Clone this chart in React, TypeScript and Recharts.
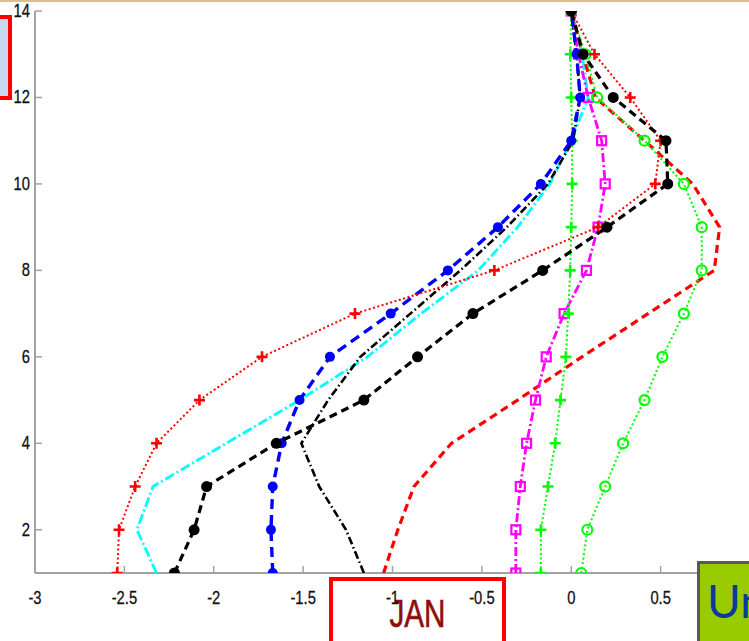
import { ScatterChart, Scatter, XAxis, YAxis } from "recharts";

// Profile heights (vertical axis) shared by every series.
const heights = [1, 2, 3, 4, 5, 6, 7, 8, 9, 10, 11, 12, 13, 14];

// Horizontal values of each profile, one per height level.
const redDotted = [-2.54, -2.53, -2.44, -2.32, -2.08, -1.73, -1.21, -0.43, 0.15, 0.47, 0.5, 0.33, 0.13, 0];
const cyanDashDot = [-2.32, -2.43, -2.34, -1.93, -1.52, -1.14, -0.84, -0.52, -0.3, -0.12, 0.0, 0.095, 0.06, 0];
const blueDashed = [-1.67, -1.68, -1.67, -1.62, -1.52, -1.35, -1.01, -0.69, -0.41, -0.17, 0.0, 0.05, 0.03, 0];
const blackDashed = [-2.22, -2.11, -2.04, -1.65, -1.16, -0.86, -0.55, -0.16, 0.2, 0.54, 0.53, 0.235, 0.067, 0];
const blackDashDot = [-1.16, -1.26, -1.41, -1.51, -1.36, -1.18, -0.9, -0.62, -0.36, -0.13, 0.01, 0.05, 0.03, 0];
const redDashed = [-1.05, -0.97, -0.88, -0.67, -0.3, 0.06, 0.43, 0.8, 0.83, 0.68, 0.41, 0.135, 0.065, 0];
const magentaDashDot = [-0.31, -0.31, -0.285, -0.25, -0.2, -0.14, -0.04, 0.085, 0.15, 0.19, 0.17, 0.095, 0.04, 0];
const greenPlus = [-0.17, -0.17, -0.13, -0.09, -0.06, -0.03, -0.017, -0.006, 0, 0.005, 0.005, 0, -0.005, 0];
const greenCircle = [0.056, 0.09, 0.19, 0.29, 0.41, 0.51, 0.63, 0.73, 0.73, 0.63, 0.41, 0.145, 0.08, 0];

const xTicks = [-3, -2.5, -2, -1.5, -1, -0.5, 0, 0.5];
const yTicks = [2, 4, 6, 8, 10, 12, 14];

const toPoints = (vals: number[]) => heights.map((h, i) => ({ x: vals[i], y: h }));

const AXIS = "#a3a3a3";
const LABEL_FONT = "'Liberation Sans', Arial, sans-serif";

type P = { cx?: number; cy?: number };

const noMarker = () => <g />;
const plus = (c: string) => ({ cx = 0, cy = 0 }: P) => (
  <path d={`M${cx - 5.5},${cy}h11M${cx},${cy - 5.5}v11`} stroke={c} strokeWidth={2.6} fill="none" />
);
const disc = (c: string, r: number) => ({ cx = 0, cy = 0 }: P) => <circle cx={cx} cy={cy} r={r} fill={c} />;
const ring = (c: string) => ({ cx = 0, cy = 0 }: P) => (
  <circle cx={cx} cy={cy} r={5} fill="none" stroke={c} strokeWidth={2.2} />
);
const box = (c: string) => ({ cx = 0, cy = 0 }: P) => (
  <rect x={cx - 4.5} y={cy - 4.5} width={9} height={9} fill="none" stroke={c} strokeWidth={2.2} />
);

// Narrow tick labels: plain sans squeezed horizontally.
const Label = ({ x, y, anchor, children }: any) => (
  <text
    transform={`translate(${x},${y}) scale(0.82,1)`}
    textAnchor={anchor}
    fontSize={18}
    fontFamily={LABEL_FONT}
    fill="#111"
    stroke="#111"
    strokeWidth={0.3}
  >
    {children}
  </text>
);

// MATLAB-style axes: tick marks point into the plot area.
const BottomTick = ({ x, y, payload }: any) => (
  <g>
    <line x1={x} y1={y} x2={x} y2={y - 7} stroke={AXIS} strokeWidth={1.5} />
    <Label x={x} y={y + 31} anchor="middle">
      {payload.value}
    </Label>
  </g>
);
const LeftTick = ({ x, y, payload }: any) => (
  <g>
    <line x1={x} y1={y} x2={x + 7} y2={y} stroke={AXIS} strokeWidth={1.5} />
    <Label x={x - 5} y={y + 6} anchor="end">
      {payload.value}
    </Label>
  </g>
);
const TopTick = ({ x, y }: any) => <line x1={x} y1={y} x2={x} y2={y + 7} stroke={AXIS} strokeWidth={1.5} />;
const RightTick = ({ x, y }: any) => <line x1={x} y1={y} x2={x - 7} y2={y} stroke={AXIS} strokeWidth={1.5} />;

const series = [
  { name: "cyan", data: cyanDashDot, color: "#00ffff", width: 2.8, dash: "10 3 2 3", shape: noMarker },
  { name: "blackDashDot", data: blackDashDot, color: "#000000", width: 2.6, dash: "8 3 1.5 3", shape: noMarker },
  { name: "redDashed", data: redDashed, color: "#ff0000", width: 3.2, dash: "8 5", shape: noMarker },
  { name: "magenta", data: magentaDashDot, color: "#ff00ff", width: 2.8, dash: "9 3 2 3", shape: box("#ff00ff") },
  { name: "greenPlus", data: greenPlus, color: "#00ff00", width: 2, dash: "2 2.5", shape: plus("#00ff00") },
  { name: "greenCircle", data: greenCircle, color: "#00ff00", width: 2, dash: "2 2.5", shape: ring("#00ff00") },
  { name: "blue", data: blueDashed, color: "#0000ff", width: 3.4, dash: "10 6", shape: disc("#0000ff", 5) },
  { name: "redDotted", data: redDotted, color: "#ff0000", width: 2, dash: "2 2.5", shape: plus("#ff0000") },
  { name: "blackDashed", data: blackDashed, color: "#000000", width: 3.2, dash: "8 5", shape: disc("#000000", 5.5) },
];

export default function App() {
  return (
    <div
      style={{
        position: "fixed",
        left: 0,
        top: 0,
        width: 749,
        height: 641,
        overflow: "hidden",
        background: "#ffffff",
      }}
    >
      <div style={{ position: "absolute", left: 0, top: 0, width: 749, height: 2, background: "#dcc27a" }} />
      {/* month frame sits under the chart so the tick labels stay visible */}
      <div
        style={{
          position: "absolute",
          left: 329,
          top: 577,
          width: 169,
          height: 80,
          border: "4px solid #ff0000",
        }}
      >
        <div
          style={{
            position: "absolute",
            left: 0,
            right: 0,
            top: 13,
            textAlign: "center",
            fontFamily: LABEL_FONT,
            fontSize: 38,
            color: "#8f0d0d",
            lineHeight: "40px",
            transform: "scaleX(0.78)",
            WebkitTextStroke: "0.6px #8f0d0d",
          }}
        >
          JAN
        </div>
      </div>
      <div style={{ position: "absolute", left: 0, top: 0 }}>
        <ScatterChart width={800} height={641} margin={{ top: 11, right: 50, bottom: 0, left: 0 }}>
          <XAxis
            type="number"
            dataKey="x"
            domain={[-3, 1]}
            ticks={xTicks}
            allowDataOverflow
            height={68}
            tickSize={0}
            tickMargin={0}
            tickLine={false}
            axisLine={{ stroke: AXIS, strokeWidth: 2 }}
            tick={BottomTick}
            interval={0}
          />
          <XAxis
            xAxisId="top"
            orientation="top"
            type="number"
            domain={[-3, 1]}
            ticks={xTicks}
            allowDataOverflow
            height={0}
            tickSize={0}
            tickMargin={0}
            tickLine={false}
            axisLine={{ stroke: AXIS, strokeWidth: 2 }}
            tick={TopTick}
            interval={0}
          />
          <YAxis
            type="number"
            dataKey="y"
            domain={[1, 14]}
            ticks={yTicks}
            allowDataOverflow
            width={35}
            tickSize={0}
            tickMargin={0}
            tickLine={false}
            axisLine={{ stroke: AXIS, strokeWidth: 2 }}
            tick={LeftTick}
            interval={0}
          />
          <YAxis
            yAxisId="right"
            orientation="right"
            type="number"
            domain={[1, 14]}
            ticks={yTicks}
            allowDataOverflow
            width={0}
            tickSize={0}
            tickMargin={0}
            tickLine={false}
            axisLine={{ stroke: AXIS, strokeWidth: 2 }}
            tick={RightTick}
            interval={0}
          />
          {series.map((s) => (
            <Scatter
              key={s.name}
              data={toPoints(s.data)}
              fill={s.color}
              line={{ stroke: s.color, strokeWidth: s.width, strokeDasharray: s.dash }}
              lineType="joint"
              shape={s.shape}
              isAnimationActive={false}
            />
          ))}
        </ScatterChart>
      </div>

      <div
        style={{
          position: "absolute",
          left: -10,
          top: 15,
          width: 14,
          height: 77,
          background: "#c6d9f0",
          border: "4px solid #ff0000",
        }}
      />
      <div
        style={{
          position: "absolute",
          left: 697,
          top: 561,
          width: 80,
          height: 90,
          background: "#99cc00",
          border: "3px solid #595959",
        }}
      >
        <div
          style={{
            position: "absolute",
            left: 7,
            top: 12,
            fontFamily: "Lato, 'Open Sans', sans-serif",
            fontSize: 46,
            color: "#0a3a9c",
            lineHeight: "50px",
            whiteSpace: "nowrap",
          }}
        >
          Un
        </div>
      </div>
    </div>
  );
}
